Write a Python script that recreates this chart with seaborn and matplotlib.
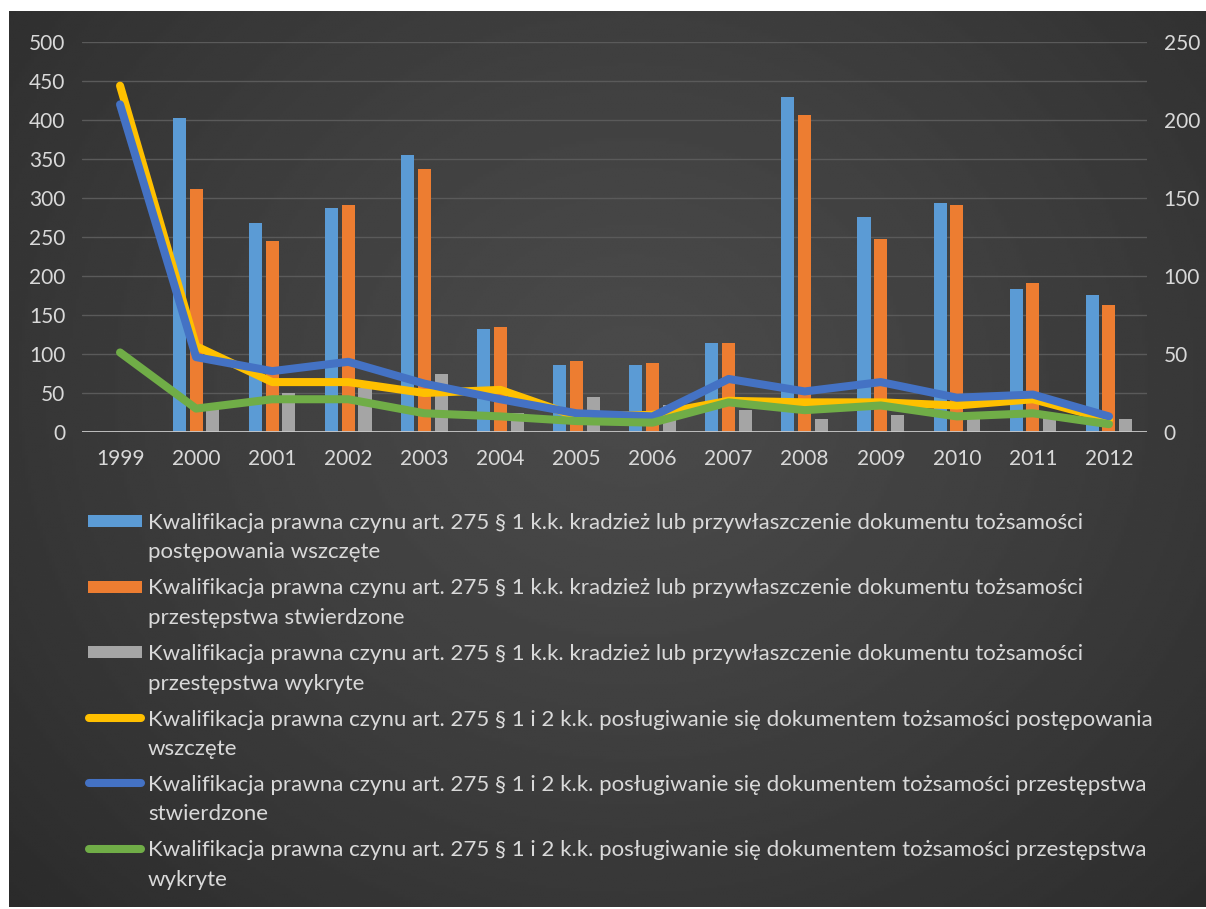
import numpy as np
import pandas as pd
import matplotlib
matplotlib.use("Agg")
import matplotlib.pyplot as plt
import seaborn as sns
from matplotlib.patches import Rectangle
from matplotlib.lines import Line2D

# ---- data -----------------------------------------------------------------
years = [1999, 2000, 2001, 2002, 2003, 2004, 2005, 2006,
         2007, 2008, 2009, 2010, 2011, 2012]

# art. 275 § 1 k.k. – kradzież lub przywłaszczenie dokumentu (left axis, bars)
theft_initiated = [np.nan, 403, 268, 287, 355, 132, 86, 86, 114, 430, 276, 294, 183, 176]
theft_confirmed = [np.nan, 311, 245, 291, 337, 135, 91, 89, 114, 407, 248, 291, 191, 163]
theft_detected = [np.nan, 33, 50, 57, 75, 25, 45, 35, 28, 17, 22, 26, 24, 17]

# art. 275 § 1 i 2 k.k. – posługiwanie się dokumentem (right axis, lines)
use_initiated = [222, 55, 32, 32, 25, 27, 10, 11, 20, 19, 19, 17, 21, 8]
use_confirmed = [210, 48, 39, 45, 31, 21, 12, 10, 34, 26, 32, 22, 24, 10]
use_detected = [51, 15, 21, 21, 12, 10, 7, 6, 19, 14, 17, 10, 12, 5]

labels = [
    "Kwalifikacja prawna czynu art. 275 § 1 k.k. kradzież lub przywłaszczenie dokumentu tożsamości\npostępowania wszczęte",
    "Kwalifikacja prawna czynu art. 275 § 1 k.k. kradzież lub przywłaszczenie dokumentu tożsamości\nprzestępstwa stwierdzone",
    "Kwalifikacja prawna czynu art. 275 § 1 k.k. kradzież lub przywłaszczenie dokumentu tożsamości\nprzestępstwa wykryte",
    "Kwalifikacja prawna czynu art. 275 § 1 i 2 k.k. posługiwanie się dokumentem tożsamości postępowania\nwszczęte",
    "Kwalifikacja prawna czynu art. 275 § 1 i 2 k.k. posługiwanie się dokumentem tożsamości przestępstwa\nstwierdzone",
    "Kwalifikacja prawna czynu art. 275 § 1 i 2 k.k. posługiwanie się dokumentem tożsamości przestępstwa\nwykryte",
]
colors = ["#5B9BD5", "#ED7D31", "#A5A5A5", "#FFC000", "#4472C4", "#70AD47"]

year_labels = [str(y) for y in years]

bar_df = pd.DataFrame({
    "year": year_labels * 3,
    "value": theft_initiated + theft_confirmed + theft_detected,
    "series": sum([[labels[i]] * len(years) for i in range(3)], []),
}).dropna()

line_df = pd.DataFrame({
    "pos": list(range(len(years))) * 3,
    "value": use_initiated + use_confirmed + use_detected,
    "series": sum([[labels[i]] * len(years) for i in range(3, 6)], []),
})

# ---- style ----------------------------------------------------------------
sns.set_theme(style="dark")
plt.rcParams["font.family"] = ["Lato", "DejaVu Sans"]
text_color = "#D9D9D9"

W, H = 1206, 909
fig = plt.figure(figsize=(W / 100, H / 100), dpi=100)
fig.patch.set_facecolor("white")

# dark radial-gradient panel behind the chart
bg = fig.add_axes([9 / W, 2 / H, (W - 9) / W, (H - 13) / H], zorder=-10)
yy, xx = np.mgrid[0:1:300j, 0:1:400j]
r = np.sqrt(((xx - 0.52) / 0.75) ** 2 + ((yy - 0.42) / 0.9) ** 2)
shade = 0.29 - 0.13 * np.clip(r, 0, 1) ** 1.3
bg.imshow(shade, cmap="gray", vmin=0, vmax=1, aspect="auto",
          extent=[0, 1, 0, 1], origin="upper", interpolation="bilinear")
bg.axis("off")

ax = fig.add_axes([82 / W, 477 / H, (1147 - 82) / W, (867 - 477) / H])
ax.patch.set_alpha(0)

sns.barplot(data=bar_df, x="year", y="value", hue="series",
            order=year_labels, hue_order=labels[:3], palette=colors[:3],
            width=0.66, gap=0.22, saturation=1, errorbar=None,
            legend=False, ax=ax, zorder=2, linewidth=0, edgecolor="none")

ax2 = ax.twinx()
sns.lineplot(data=line_df, x="pos", y="value", hue="series",
             hue_order=labels[3:], palette=colors[3:], linewidth=5.8,
             legend=False, ax=ax2, solid_joinstyle="round",
             solid_capstyle="round")

ax.set_xlim(-0.5, len(years) - 0.5)
ax.set_ylim(0, 500)
ax2.set_ylim(0, 250)
ax.set_yticks(range(0, 501, 50))
ax2.set_yticks(range(0, 251, 50))

for a in (ax, ax2):
    a.set_xlabel("")
    a.set_ylabel("")
    for s in a.spines.values():
        s.set_visible(False)
    a.grid(False)
    a.tick_params(length=0, labelsize=15, labelcolor=text_color)

ax.tick_params(axis="x", pad=12)
ax.tick_params(axis="y", pad=12)
ax2.tick_params(axis="y", pad=12)

ax.yaxis.grid(True, color="#5A5A5A", linewidth=1)
ax.set_axisbelow(True)
ax.axhline(0, color="#C8C8C8", linewidth=1.3, zorder=3)

# ---- legend (one row per series, label wrapped over two lines) -------------
def fx(px):
    return px / W


def fy(py):
    return 1 - py / H


row0, row_step, line_step = 521, 65.5, 29.5
for i, (lab, c) in enumerate(zip(labels, colors)):
    y = row0 + i * row_step
    if i < 3:
        fig.add_artist(Rectangle((fx(88), fy(y + 6)), fx(142) - fx(88),
                                 fy(y - 6) - fy(y + 6), transform=fig.transFigure,
                                 facecolor=c, edgecolor="none"))
    else:
        fig.add_artist(Line2D([fx(89), fx(141)], [fy(y), fy(y)],
                              transform=fig.transFigure, color=c,
                              linewidth=5.8, solid_capstyle="round"))
    for j, part in enumerate(lab.split("\n")):
        fig.text(fx(148), fy(y + j * line_step), part, ha="left",
                 va="center_baseline", fontsize=16, color=text_color)

fig.savefig("out.png", dpi=100)
